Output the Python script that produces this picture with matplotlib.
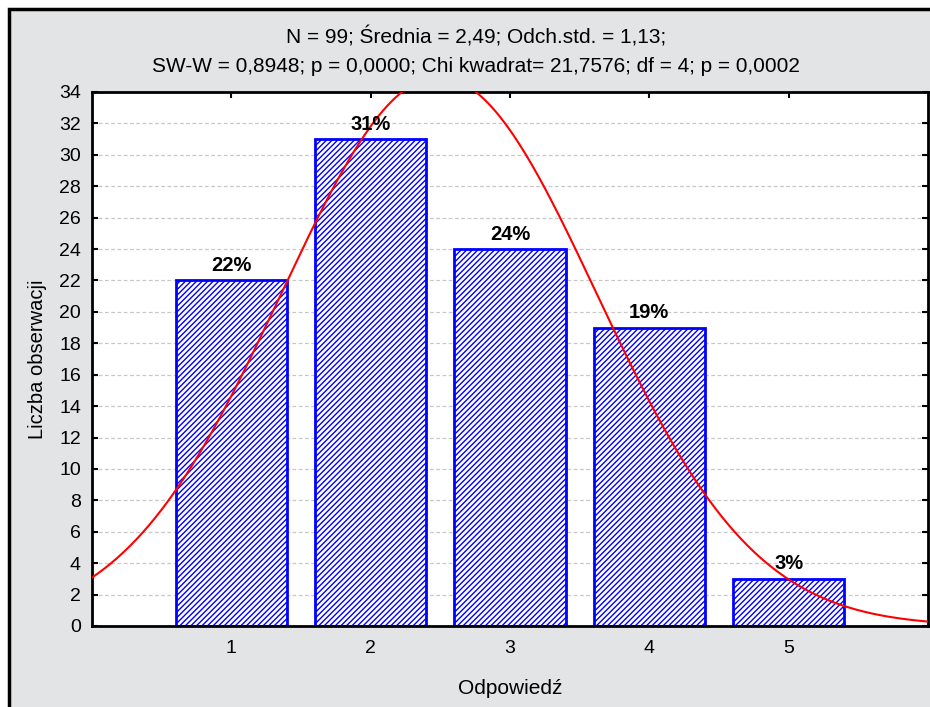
import numpy as np
import matplotlib
matplotlib.use("Agg")
import matplotlib.pyplot as plt
from matplotlib.patches import Rectangle

plt.rcParams['font.family'] = ['Liberation Sans', 'DejaVu Sans']
plt.rcParams['hatch.linewidth'] = 1.0

# data
answers = [1, 2, 3, 4, 5]
counts = [22, 31, 24, 19, 3]
percent_labels = ["22%", "31%", "24%", "19%", "3%"]
n_obs = 99
mean = 2.49
std = 1.13
title_lines = ["N = 99; Średnia = 2,49; Odch.std. = 1,13;",
               "SW-W = 0,8948; p = 0,0000; Chi kwadrat= 21,7576; df = 4; p = 0,0002"]

fig = plt.figure(figsize=(9.30, 7.07), dpi=100)
fig.patch.set_facecolor("white")
# gray panel with black frame (clipped at right/bottom like the screenshot)
frame = Rectangle((9 / 930, -0.05), 1.1, 1 - 9 / 707 + 0.05, transform=fig.transFigure,
                  facecolor="#e3e4e6", edgecolor="black", linewidth=2.5, zorder=-5)
fig.patches.append(frame)

ax = fig.add_axes([92 / 930, 1 - 626 / 707, (928 - 92) / 930, (626 - 92) / 707])
ax.set_facecolor("white")

bars = ax.bar(answers, counts, width=0.8, facecolor="white", edgecolor="#0000ff",
              linewidth=2, hatch="//////", zorder=2)
for x, c, lab in zip(answers, counts, percent_labels):
    ax.text(x, c + 0.35, lab, ha="center", va="bottom", fontsize=14.5,
            fontweight="bold", zorder=4)

# fitted normal curve (bin width 1)
xs = np.linspace(0, 6, 400)
ys = n_obs / (std * np.sqrt(2 * np.pi)) * np.exp(-0.5 * ((xs - mean) / std) ** 2)
ax.plot(xs, ys, color="red", linewidth=1.5, zorder=3)

ax.set_xlim(0, 6)
ax.set_ylim(0, 34)
ax.set_xticks(answers)
ax.set_yticks(np.arange(0, 35, 2))
ax.tick_params(axis="both", direction="in", length=4, width=1.5, labelsize=14,
               top=True, right=True, pad=10)
ax.tick_params(axis="y", pad=8)
ax.yaxis.grid(True, linestyle=(0, (3, 2)), color="#c8c8c8", linewidth=0.9, zorder=1)
ax.set_axisbelow(True)
for s in ax.spines.values():
    s.set_linewidth(2)

ax.set_xlabel("Odpowiedź", fontsize=15, labelpad=16)
ax.set_ylabel("Liczba obserwacji", fontsize=14.5, labelpad=9)

fig.text(476 / 930, 1 - 37 / 707, title_lines[0], ha="center", va="center", fontsize=15)
fig.text(476 / 930, 1 - 66 / 707, title_lines[1], ha="center", va="center", fontsize=15)

fig.savefig("out.png", dpi=100)
